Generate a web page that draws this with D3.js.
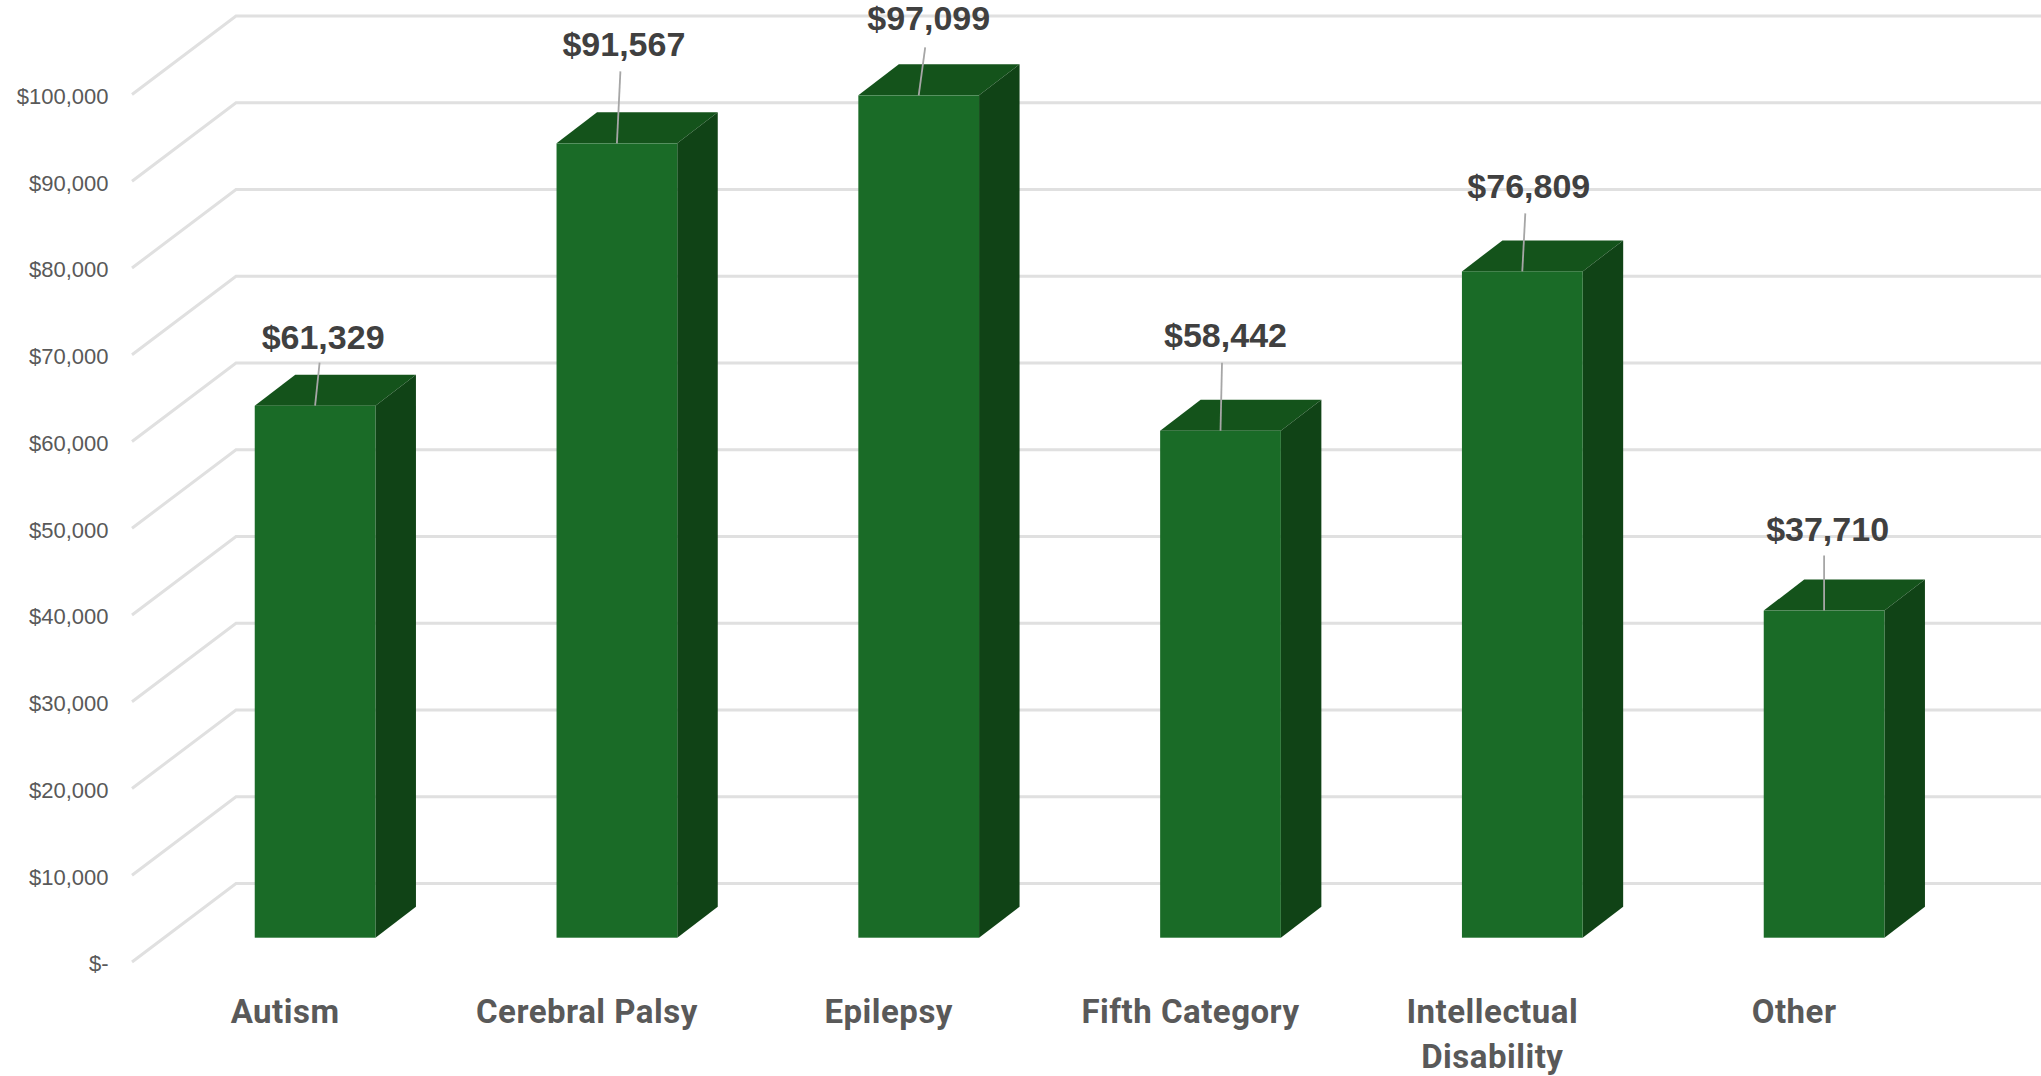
<!DOCTYPE html>
<html>
<head>
<meta charset="utf-8">
<script src="https://cdn.jsdelivr.net/npm/d3@7"></script>
<style>
  html, body { margin: 0; padding: 0; background: #fff; overflow: hidden; }
  svg { display: block; }
</style>
</head>
<body>
<div id="chart"></div>
<script>
// data
const categories = ["Autism", "Cerebral Palsy", "Epilepsy", "Fifth Category", "Intellectual Disability", "Other"];
const values = [61329, 91567, 97099, 58442, 76809, 37710];
const yTicks = [0, 10000, 20000, 30000, 40000, 50000, 60000, 70000, 80000, 90000, 100000];

// label placement: [shift from bar centre, baseline above bar top, leader end above bar top]
const labelPlace = [[8, 57, 43], [7, 87, 72], [10, 65, 48], [5, 84, 68], [6.5, 73, 58], [3.5, 70, 55]];

const width = 2041, height = 1076;

const svg = d3.select("#chart").append("svg")
    .attr("width", width)
    .attr("height", height);

// scales: bar floor, wall is shifted from it
const x = d3.scaleBand()
    .domain(categories)
    .range([164.2, 1975])
    .paddingInner(0.6)
    .paddingOuter(0.3);

const y = d3.scaleLinear()
    .domain([0, 100000])
    .range([937.7, 70.2]);

// depth of the bars and of the side wall
const barDx = 40.5, barDy = -31;
const wallFrontX = 132, wallBackX = 236, wallFrontDy = 24.3, wallBackDy = -54.2;

const colors = { front: "#1a6b27", top: "#14531b", side: "#104316", grid: "#e0e0e0" };

// gridlines
svg.append("g").selectAll("path")
    .data(yTicks)
    .join("path")
    .attr("fill", "none")
    .attr("stroke", colors.grid)
    .attr("stroke-width", 3)
    .attr("d", d => `M${wallFrontX},${y(d) + wallFrontDy}L${wallBackX},${y(d) + wallBackDy}L${width + 5},${y(d) + wallBackDy}`);

// y axis labels
const yAxis = d3.axisLeft(y.copy().range(y.range().map(v => v + wallFrontDy)))
    .tickValues(yTicks)
    .tickSize(0)
    .tickPadding(23.5)
    .tickFormat(d => d === 0 ? "$-" : d3.format("$,")(d));

svg.append("g")
    .attr("transform", `translate(${wallFrontX},0)`)
    .call(yAxis)
    .call(g => g.select(".domain").remove())
    .selectAll("text")
    .attr("dy", "0.4em")
    .style("font-family", "'Liberation Sans', sans-serif")
    .style("font-size", "22px")
    .attr("fill", "#595959");

// bars
const bars = svg.append("g").selectAll("g")
    .data(categories.map((c, i) => ({ c, v: values[i], place: labelPlace[i] })))
    .join("g");

bars.append("path") // top face
    .attr("fill", colors.top)
    .attr("d", d => {
        const l = x(d.c), r = l + x.bandwidth(), t = y(d.v);
        return `M${l},${t}L${l + barDx},${t + barDy}L${r + barDx},${t + barDy}L${r},${t}Z`;
    });

bars.append("path") // side face
    .attr("fill", colors.side)
    .attr("d", d => {
        const r = x(d.c) + x.bandwidth(), t = y(d.v), b = y(0);
        return `M${r},${t}L${r + barDx},${t + barDy}L${r + barDx},${b + barDy}L${r},${b}Z`;
    });

bars.append("rect") // front face
    .attr("x", d => x(d.c))
    .attr("y", d => y(d.v))
    .attr("width", x.bandwidth())
    .attr("height", d => y(0) - y(d.v))
    .attr("fill", colors.front);

// leader lines
bars.append("line")
    .attr("x1", d => x(d.c) + x.bandwidth() / 2)
    .attr("y1", d => y(d.v))
    .attr("x2", d => x(d.c) + x.bandwidth() / 2 + d.place[0] - 3.5)
    .attr("y2", d => y(d.v) - d.place[2])
    .attr("stroke", "#a6a6a6")
    .attr("stroke-width", 1.8);

// value labels
bars.append("text")
    .attr("x", d => x(d.c) + x.bandwidth() / 2 + d.place[0])
    .attr("y", d => y(d.v) - d.place[1])
    .attr("text-anchor", "middle")
    .style("font-family", "'Liberation Sans', sans-serif")
    .style("font-weight", "bold")
    .style("font-size", "34px")
    .attr("fill", "#404040")
    .text(d => d3.format("$,")(d.v));

// category labels, wrapped like the original
const catLines = { "Intellectual Disability": ["Intellectual", "Disability"] };

svg.append("g").selectAll("text")
    .data(categories)
    .join("text")
    .attr("text-anchor", "middle")
    .style("font-family", "Roboto, sans-serif")
    .style("font-weight", "bold")
    .style("font-size", "33px")
    .style("letter-spacing", "0.5px")
    .attr("fill", "#595959")
    .each(function (d) {
        d3.select(this).selectAll("tspan")
            .data(catLines[d] || [d])
            .join("tspan")
            .attr("x", x(d) + x.bandwidth() / 2 - 30)
            .attr("y", (l, i) => 1022.5 + i * 45.5)
            .text(l => l);
    });
</script>
</body>
</html>
